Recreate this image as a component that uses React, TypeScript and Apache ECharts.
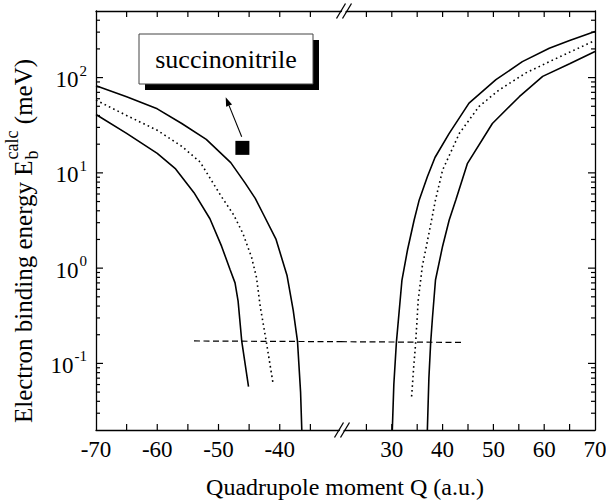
import React, { useEffect, useRef } from 'react';
import * as echarts from 'echarts';

// ---- Data (Q in a.u., E in meV) ----
const leftUpper: [number, number][] = [
  [-70, 82], [-65, 63], [-60, 47], [-56, 33], [-52, 22.5], [-48, 12.8], [-45.7, 7.9],
  [-44, 5.4], [-42.7, 3.7], [-40.6, 2.0], [-38.8, 0.83], [-37.8, 0.36], [-37.1, 0.17],
  [-36.6, 0.05], [-36.4, 0.02],
];
const leftDotted: [number, number][] = [
  [-70, 58], [-65, 40], [-60, 28], [-56, 19], [-53, 13], [-49.5, 5.6], [-47.5, 3.6],
  [-46, 2.3], [-44.6, 1.3], [-43.8, 0.8], [-43.2, 0.4], [-42.2, 0.17], [-41.1, 0.062],
];
const leftLower: [number, number][] = [
  [-70, 41], [-65, 26], [-60, 16], [-57, 11], [-54, 6.2], [-51.4, 3.3], [-49.5, 1.7],
  [-48.1, 0.96], [-47.3, 0.7], [-46.8, 0.45], [-46.2, 0.17], [-45.1, 0.057],
];
const rightInner: [number, number][] = [
  [30.1, 0.02], [30.4, 0.06], [30.9, 0.165], [32.0, 0.75], [33.1, 1.56], [34.4, 3.2],
  [35.4, 5.2], [37, 9.1], [38.5, 14.5], [41.3, 26], [45.2, 54], [50.5, 95], [55.7, 147],
  [61, 203], [65, 245], [70, 305],
];
const rightDotted: [number, number][] = [
  [33.9, 0.045], [34.3, 0.09], [34.7, 0.165], [35.2, 0.46], [36, 1.04], [37.3, 2.3],
  [38.6, 5.2], [40, 10.7], [43.3, 26], [47.2, 50], [51.1, 74], [56.4, 112], [61.7, 153],
  [70, 245],
];
const rightOuter: [number, number][] = [
  [37.0, 0.02], [37.3, 0.07], [37.65, 0.165], [38, 0.3], [38.6, 0.75], [40, 1.7],
  [41.3, 3.2], [42.6, 5.2], [44.9, 12.6], [49.8, 33], [55.1, 63], [59.7, 103], [65, 140],
  [70, 188],
];
const squarePoint: [number, number][] = [[-46.1, 18.3]];
const thresholdLeft: [number, number][] = [[-54, 0.172], [-30, 0.169]];
const thresholdRight: [number, number][] = [[20, 0.169], [44, 0.166]];

const leftTickLabels = [-70, -60, -50, -40];
const leftTicks = [-65, -60, -55, -50, -45, -40, -35];
const rightTickLabels = [30, 40, 50, 60, 70];
const rightTicks = [25, 30, 35, 40, 45, 50, 55, 60, 65];
const yDecades = [0.1, 1, 10, 100];
const yMinorMultipliers = [2, 3, 4, 5, 6, 7, 8, 9];

const legendText = 'succinonitrile';
const xTitle = 'Quadrupole moment Q (a.u.)';
const yTitleMain = 'Electron binding energy E';
const yTitleSub = 'b';
const yTitleSup = 'calc';
const yTitleEnd = ' (meV)';

const FAMILY = 'Liberation Serif';
const Y_MIN = 0.02;
const Y_MAX = 500;
const X_RANGES: [number, number][] = [[-70, -30], [20, 70]];

function yTickValues(): number[] {
  const out: number[] = [];
  for (let e = -2; e <= 2; e++) {
    const base = Math.pow(10, e);
    if (yDecades.some((d) => Math.abs(d - base) / d < 1e-9)) out.push(base);
    for (const m of yMinorMultipliers) {
      const v = m * base;
      if (v > Y_MIN * 1.0001 && v < Y_MAX * 0.9999) out.push(v);
    }
  }
  return out;
}

function measure(text: string, size: number): number {
  try {
    const c = document.createElement('canvas').getContext('2d');
    if (!c) return text.length * size * 0.45;
    c.font = `${size}px "${FAMILY}"`;
    return c.measureText(text).width;
  } catch (e) {
    return text.length * size * 0.45;
  }
}

const isDecade = (v: number) => Math.abs(Math.log10(v) - Math.round(Math.log10(v))) < 1e-6;

export default function App() {
  const ref = useRef<HTMLDivElement>(null);
  useEffect(() => {
    if (!ref.current) return;
    const chart = echarts.init(ref.current, undefined, { renderer: 'svg' });

    const grids = [
      { left: 96, top: 11, width: 245, height: 419 },
      { left: 341, top: 11, width: 254, height: 419 },
    ];

    const solid = { color: '#000', width: 1.6 };
    const dotted = { color: '#000', width: 1.6, type: [1.6, 3.2] };
    const dashed = { color: '#000', width: 1.2, type: [6, 3.5] };

    const line = (data: [number, number][], gridIdx: number, ls: any) => ({
      type: 'line',
      xAxisIndex: gridIdx * 2,
      yAxisIndex: gridIdx,
      data,
      symbol: 'none',
      lineStyle: ls,
    });

    const xAxisCommon = (grid: number, pos: string) => ({
      type: 'value', gridIndex: grid, min: X_RANGES[grid][0], max: X_RANGES[grid][1], interval: 10, position: pos,
      axisLine: { show: true, lineStyle: { color: '#000', width: 1.3 } },
      axisTick: { show: false },
      axisLabel: { show: false },
      splitLine: { show: false },
    });
    const yAxisCommon = (grid: number, pos: string) => ({
      type: 'log', logBase: 10, gridIndex: grid, min: Y_MIN, max: Y_MAX, position: pos,
      axisLine: { show: true, lineStyle: { color: '#000', width: 1.3 } },
      axisTick: { show: false },
      axisLabel: { show: false },
      splitLine: { show: false },
    });

    // y title layout (rotated group)
    const mainSize = 25;
    const smallSize = 18;
    const wMain = measure(yTitleMain, mainSize);
    const wSup = measure(yTitleSup, smallSize);
    const wEnd = measure(yTitleEnd, mainSize);
    const total = wMain + 1 + wSup + wEnd;
    const yTitleCenter = 241;
    const yTitleX = 23;

    // arrow annotation (from the marker towards the label box)
    const tip = [225.7, 97.3];
    const tail = [241.7, 136.7];
    const dx = tip[0] - tail[0];
    const dy = tip[1] - tail[1];
    const L = Math.hypot(dx, dy);
    const ux = dx / L, uy = dy / L;
    const headLen = 9, headW = 3.2;
    const base = [tip[0] - ux * headLen, tip[1] - uy * headLen];
    const px = -uy * headW, py = ux * headW;

    const breakMark = (cx: number, cy: number) => {
      const h = 7.5, w = 4.5, gap = 6;
      const x1 = cx - gap / 2, x2 = cx + gap / 2;
      return [
        {
          type: 'polygon', z: 100,
          shape: { points: [[x1 - w + 1.2, cy + h], [x1 + w + 1.2, cy - h], [x2 + w - 1.2, cy - h], [x2 - w - 1.2, cy + h]] },
          style: { fill: '#fff' },
        },
        { type: 'line', z: 101, shape: { x1: x1 - w, y1: cy + h, x2: x1 + w, y2: cy - h }, style: { stroke: '#000', lineWidth: 1.3 } },
        { type: 'line', z: 101, shape: { x1: x2 - w, y1: cy + h, x2: x2 + w, y2: cy - h }, style: { stroke: '#000', lineWidth: 1.3 } },
      ];
    };

    const baseGraphics: any[] = [
      { type: 'rect', shape: { x: 145, y: 40, width: 174, height: 50 }, style: { fill: '#000' } },
      { type: 'rect', shape: { x: 139, y: 34, width: 174, height: 50 }, style: { fill: '#fff', stroke: '#444', lineWidth: 1 } },
      {
        type: 'text', x: 226, y: 59,
        style: { text: legendText, font: `26px "${FAMILY}"`, fill: '#000', align: 'center', verticalAlign: 'middle' },
      },
      { type: 'line', shape: { x1: tail[0], y1: tail[1], x2: base[0], y2: base[1] }, style: { stroke: '#000', lineWidth: 1.1 } },
      {
        type: 'polygon',
        shape: { points: [[tip[0], tip[1]], [base[0] + px, base[1] + py], [base[0] - px, base[1] - py]] },
        style: { fill: '#000' },
      },
      {
        type: 'text', x: 345, y: 487,
        style: { text: xTitle, font: `24px "${FAMILY}"`, fill: '#000', align: 'center', verticalAlign: 'middle' },
      },
      {
        type: 'group', x: yTitleX, y: yTitleCenter + total / 2, rotation: Math.PI / 2,
        children: [
          { type: 'text', x: 0, y: 0, style: { text: yTitleMain, font: `${mainSize}px "${FAMILY}"`, fill: '#000', align: 'left', verticalAlign: 'middle' } },
          { type: 'text', x: wMain + 1, y: 9, style: { text: yTitleSub, font: `${smallSize}px "${FAMILY}"`, fill: '#000', align: 'left', verticalAlign: 'middle' } },
          { type: 'text', x: wMain + 1, y: -11, style: { text: yTitleSup, font: `${smallSize}px "${FAMILY}"`, fill: '#000', align: 'left', verticalAlign: 'middle' } },
          { type: 'text', x: wMain + 1 + wSup, y: 0, style: { text: yTitleEnd, font: `${mainSize}px "${FAMILY}"`, fill: '#000', align: 'left', verticalAlign: 'middle' } },
        ],
      },
    ];

    const option: any = {
      animation: false,
      backgroundColor: '#fff',
      textStyle: { fontFamily: FAMILY },
      grid: grids,
      xAxis: [xAxisCommon(0, 'bottom'), xAxisCommon(0, 'top'), xAxisCommon(1, 'bottom'), xAxisCommon(1, 'top')],
      yAxis: [yAxisCommon(0, 'left'), yAxisCommon(1, 'right')],
      series: [
        line(leftUpper, 0, solid),
        line(leftDotted, 0, dotted),
        line(leftLower, 0, solid),
        line(rightInner, 1, solid),
        line(rightDotted, 1, dotted),
        line(rightOuter, 1, solid),
        line(thresholdLeft, 0, dashed),
        line(thresholdRight, 1, dashed),
        {
          type: 'scatter', xAxisIndex: 0, yAxisIndex: 0, data: squarePoint,
          symbol: 'rect', symbolSize: 14, itemStyle: { color: '#000', opacity: 1 },
        },
      ],
      graphic: baseGraphics,
    };
    chart.setOption(option);

    // Axis ticks and tick labels, positioned through the chart's own scales.
    const fallback = (grid: number, q: number, v: number): number[] => {
      const g = grids[grid];
      const [a, b] = X_RANGES[grid];
      const x = g.left + ((q - a) / (b - a)) * g.width;
      const lMin = Math.log10(Y_MIN), lMax = Math.log10(Y_MAX);
      const y = g.top + ((lMax - Math.log10(v)) / (lMax - lMin)) * g.height;
      return [x, y];
    };
    const toPx = (grid: number, q: number, v: number): number[] => {
      try {
        const p: any = chart.convertToPixel({ xAxisIndex: grid * 2, yAxisIndex: grid } as any, [q, v]);
        if (p && isFinite(p[0]) && isFinite(p[1])) return [p[0], p[1]];
      } catch (e) {
        /* use fallback */
      }
      return fallback(grid, q, v);
    };

    const tickStyle = { stroke: '#000', lineWidth: 1.2 };
    const extra: any[] = [];
    const xTicks = (grid: number, qs: number[]) => {
      for (const q of qs) {
        const b = toPx(grid, q, Y_MIN);
        const t = toPx(grid, q, Y_MAX);
        extra.push({ type: 'line', shape: { x1: b[0], y1: b[1], x2: b[0], y2: b[1] - 6 }, style: tickStyle });
        extra.push({ type: 'line', shape: { x1: t[0], y1: t[1], x2: t[0], y2: t[1] + 6 }, style: tickStyle });
      }
    };
    xTicks(0, leftTicks);
    xTicks(1, rightTicks);

    for (const v of yTickValues()) {
      const len = isDecade(v) ? 7 : 4;
      const l = toPx(0, X_RANGES[0][0], v);
      const r = toPx(1, X_RANGES[1][1], v);
      extra.push({ type: 'line', shape: { x1: l[0], y1: l[1], x2: l[0] + len, y2: l[1] }, style: tickStyle });
      extra.push({ type: 'line', shape: { x1: r[0], y1: r[1], x2: r[0] - len, y2: r[1] }, style: tickStyle });
    }

    const xLabelText = (grid: number, qs: number[]) => {
      for (const q of qs) {
        const p = toPx(grid, q, Y_MIN);
        extra.push({
          type: 'text', x: p[0], y: p[1] + 8,
          style: { text: String(q), font: `23px "${FAMILY}"`, fill: '#000', align: 'center', verticalAlign: 'top' },
        });
      }
    };
    xLabelText(0, leftTickLabels);
    xLabelText(1, rightTickLabels);

    for (const d of yDecades) {
      const p = toPx(0, X_RANGES[0][0], d);
      const exp = String(Math.round(Math.log10(d)));
      const wExp = measure(exp, 15);
      const right = p[0] - 9;
      extra.push({
        type: 'text', x: right - wExp - 1, y: p[1] + 2,
        style: { text: '10', font: `23px "${FAMILY}"`, fill: '#000', align: 'right', verticalAlign: 'middle' },
      });
      extra.push({
        type: 'text', x: right - wExp, y: p[1] - 7,
        style: { text: exp, font: `15px "${FAMILY}"`, fill: '#000', align: 'left', verticalAlign: 'middle' },
      });
    }

    const breaks = [...breakMark(342, 430), ...breakMark(344, 11)];

    chart.setOption({ graphic: [...baseGraphics, ...extra, ...breaks] });

    return () => chart.dispose();
  }, []);

  return (
    <div
      ref={ref}
      style={{ position: 'fixed', left: 0, top: 0, width: 606, height: 501, background: '#fff' }}
    />
  );
}
